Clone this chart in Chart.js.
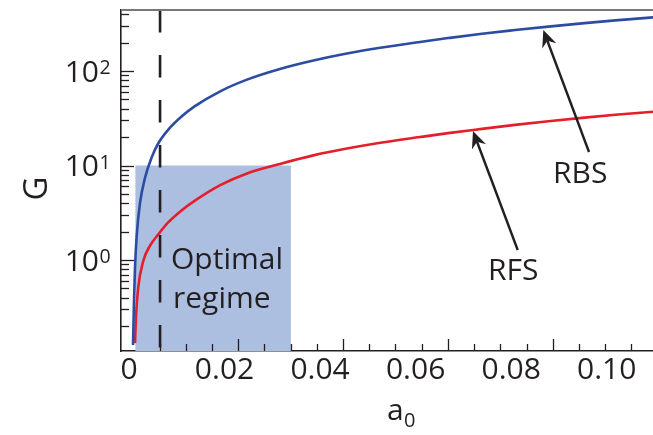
<!DOCTYPE html>
<html>
<head>
<meta charset="utf-8">
<script src="https://cdn.jsdelivr.net/npm/chart.js@4"></script>
<style>
  html, body { margin: 0; padding: 0; background: #fff; }
  canvas { display: block; }
</style>
</head>
<body>
<canvas id="chart" width="653" height="435"></canvas>
<script>
// Gain G of the two schemes as a function of a0
const rbsA0 = [0.00084, 0.00105, 0.00126, 0.00161, 0.0023, 0.00335, 0.00475, 0.00614, 0.00823, 0.0110, 0.0138,
               0.0191, 0.0247, 0.0316, 0.0386, 0.0456, 0.0526, 0.0609, 0.0668, 0.0739, 0.0808, 0.0878, 0.0948, 0.1018, 0.1097];
const rbsG  = [0.126, 0.377, 0.84, 1.8, 4.0, 7.4, 12.2, 17.2, 24.0, 33.0, 42.5,
               61, 81, 105, 129, 153, 176, 203, 223, 248, 271, 295, 319, 343, 369];

const rfsA0 = [0.00126, 0.00147, 0.00195, 0.0030, 0.0044, 0.0061, 0.0082, 0.0110, 0.0138,
               0.0191, 0.0247, 0.0316, 0.0386, 0.0456, 0.0526, 0.0609, 0.0668, 0.0739, 0.0808, 0.0878, 0.0948, 0.1018, 0.1097];
const rfsG  = [0.132, 0.25, 0.52, 0.98, 1.42, 1.86, 2.5, 3.35, 4.25,
               6.2, 8.25, 10.4, 12.8, 15.1, 17.4, 20.0, 22.0, 24.4, 26.9, 29.4, 31.9, 34.4, 37.0];

// Axis labelling
const xTickValues = [0, 0.02, 0.04, 0.06, 0.08, 0.10];
const xTickLabels = ['0', '0.02', '0.04', '0.06', '0.08', '0.10'];
const yTickExponents = [0, 1, 2];
const yMinorMantissas = [2, 3, 4, 5, 6, 7, 8, 9];

// Optimal regime box and the dashed reference line
const optimalA0 = [0.0013, 0.0339];
const optimalGMax = 10;
const markerA0 = 0.0065;

// Axis ranges
const X_MIN = -0.001675, X_MAX = 0.10969;
const TICKMARK_MIN = -0.002385, TICKMARK_MAX = 0.099141;
const Y_MIN = 0.109, Y_MAX = 442;

const FONT = "'Open Sans', 'Noto Sans', sans-serif";
const INK = '#231f20';

// Annotation placement in data coordinates
const textNotes = [
  { text: 'Optimal', a: 0.00879, g: 0.803 },
  { text: 'regime',  a: 0.00921, g: 0.310 },
  { text: 'RFS',     a: 0.07515, g: 0.614 },
  { text: 'RBS',     a: 0.08876, g: 6.53 }
];
const arrowNotes = [
  { from: [0.08137, 1.276], to: [0.07201, 23.2] },
  { from: [0.0963, 13.9],   to: [0.08673, 271.6] }
];

function drawArrow(ctx, x0, y0, x1, y1) {
  const ang = Math.atan2(y1 - y0, x1 - x0);
  const c = Math.cos(ang), s = Math.sin(ang);
  const L = 17, W = 7.5, N = 11.5;
  ctx.beginPath();
  ctx.moveTo(x0, y0);
  ctx.lineTo(x1 - N * c, y1 - N * s);
  ctx.stroke();
  ctx.beginPath();
  ctx.moveTo(x1, y1);
  ctx.lineTo(x1 - L * c + W * s, y1 - L * s - W * c);
  ctx.lineTo(x1 - N * c, y1 - N * s);
  ctx.lineTo(x1 - L * c - W * s, y1 - L * s + W * c);
  ctx.closePath();
  ctx.fill();
}

const decorations = {
  id: 'decorations',
  afterDraw(chart) {
    const { ctx, chartArea: area, scales } = chart;
    const xs = scales.x, xm = scales.xMarks, ys = scales.y;
    ctx.save();

    // top frame line
    ctx.strokeStyle = '#77787b';
    ctx.lineWidth = 2;
    ctx.beginPath();
    ctx.moveTo(area.left, area.top);
    ctx.lineTo(area.right, area.top);
    ctx.stroke();

    // inward tick marks
    ctx.strokeStyle = INK;
    ctx.lineWidth = 1.3;
    for (let k = 1; k <= 19; k++) {
      const v = k * 0.005;
      const px = Math.round(xm.getPixelForValue(v)) + 0.5;
      const len = (k % 4 === 0) ? 12 : 7;
      ctx.beginPath();
      ctx.moveTo(px, area.bottom);
      ctx.lineTo(px, area.bottom - len);
      ctx.stroke();
    }
    for (let e = -1; e <= 2; e++) {
      const vals = [];
      if (e >= 0) vals.push([Math.pow(10, e), 13]);
      yMinorMantissas.forEach(m => vals.push([m * Math.pow(10, e), 8]));
      vals.forEach(([v, len]) => {
        if (v < Y_MIN || v > Y_MAX) return;
        const py = Math.round(ys.getPixelForValue(v)) + 0.5;
        ctx.beginPath();
        ctx.moveTo(area.left, py);
        ctx.lineTo(area.left + len, py);
        ctx.stroke();
      });
    }

    // y tick labels with exponents
    ctx.fillStyle = INK;
    ctx.textBaseline = 'alphabetic';
    yTickExponents.forEach(e => {
      const py = ys.getPixelForValue(Math.pow(10, e));
      ctx.font = '30px ' + FONT;
      ctx.textAlign = 'right';
      ctx.fillText('10', 99, py + 10.7);
      ctx.font = '19.5px ' + FONT;
      ctx.textAlign = 'left';
      ctx.fillText(String(e), 99.5, py + 3);
    });

    // axis titles
    ctx.font = '30px ' + FONT;
    ctx.textAlign = 'left';
    ctx.fillText('a', 387, 420);
    ctx.font = '20px ' + FONT;
    ctx.fillText('0', 404, 427);

    ctx.save();
    ctx.translate(35.5, 188.5);
    ctx.rotate(-Math.PI / 2);
    ctx.font = '33px ' + FONT;
    ctx.textAlign = 'center';
    ctx.fillText('G', 0, 11.8);
    ctx.restore();

    // annotations
    ctx.font = '30px ' + FONT;
    ctx.textAlign = 'left';
    textNotes.forEach(n => {
      ctx.fillText(n.text, xs.getPixelForValue(n.a), ys.getPixelForValue(n.g));
    });
    ctx.strokeStyle = INK;
    ctx.fillStyle = INK;
    ctx.lineWidth = 2.4;
    arrowNotes.forEach(n => {
      drawArrow(ctx,
        xs.getPixelForValue(n.from[0]), ys.getPixelForValue(n.from[1]),
        xs.getPixelForValue(n.to[0]), ys.getPixelForValue(n.to[1]));
    });
    ctx.restore();
  }
};

const toPoints = (xsArr, ysArr) => xsArr.map((x, i) => ({ x, y: ysArr[i] }));

new Chart(document.getElementById('chart'), {
  type: 'line',
  data: {
    datasets: [
      {
        label: 'RBS',
        data: toPoints(rbsA0, rbsG),
        borderColor: '#2c4ca2',
        borderWidth: 2.6,
        pointRadius: 0,
        cubicInterpolationMode: 'monotone',
        fill: false,
        order: 1
      },
      {
        label: 'RFS',
        data: toPoints(rfsA0, rfsG),
        borderColor: '#e41e2b',
        borderWidth: 2.6,
        pointRadius: 0,
        cubicInterpolationMode: 'monotone',
        fill: false,
        order: 1
      },
      {
        label: 'reference',
        data: [{ x: markerA0, y: Y_MAX }, { x: markerA0, y: Y_MIN }],
        borderColor: INK,
        borderWidth: 2.6,
        borderDash: [22.5, 22.5],
        pointRadius: 0,
        fill: false,
        order: 2
      },
      {
        label: 'Optimal regime',
        data: [{ x: optimalA0[0], y: optimalGMax }, { x: optimalA0[1], y: optimalGMax }],
        borderColor: 'rgba(0,0,0,0)',
        borderWidth: 0,
        backgroundColor: '#adbfe1',
        pointRadius: 0,
        fill: 'start',
        order: 3
      }
    ]
  },
  options: {
    responsive: false,
    animation: false,
    devicePixelRatio: 1,
    layout: { padding: { top: 10, right: 0, bottom: 0, left: 0 } },
    plugins: { legend: { display: false }, tooltip: { enabled: false } },
    scales: {
      x: {
        type: 'linear',
        min: X_MIN,
        max: X_MAX,
        afterBuildTicks: s => { s.ticks = xTickValues.map(v => ({ value: v })); },
        afterFit: s => { s.height = 84; },
        grid: { display: false, drawTicks: false },
        border: { display: true, color: INK, width: 1.6 },
        ticks: {
          callback: (v, i) => xTickLabels[i],
          font: { family: FONT, size: 30 },
          color: INK,
          padding: 1,
          maxRotation: 0,
          autoSkip: false
        }
      },
      xMarks: {
        type: 'linear',
        display: false,
        min: TICKMARK_MIN,
        max: TICKMARK_MAX
      },
      y: {
        type: 'logarithmic',
        min: Y_MIN,
        max: Y_MAX,
        afterFit: s => { s.width = 121; },
        grid: { display: false },
        border: { display: true, color: INK, width: 1.6 },
        ticks: { display: false }
      }
    }
  },
  plugins: [decorations]
});
</script>
</body>
</html>
